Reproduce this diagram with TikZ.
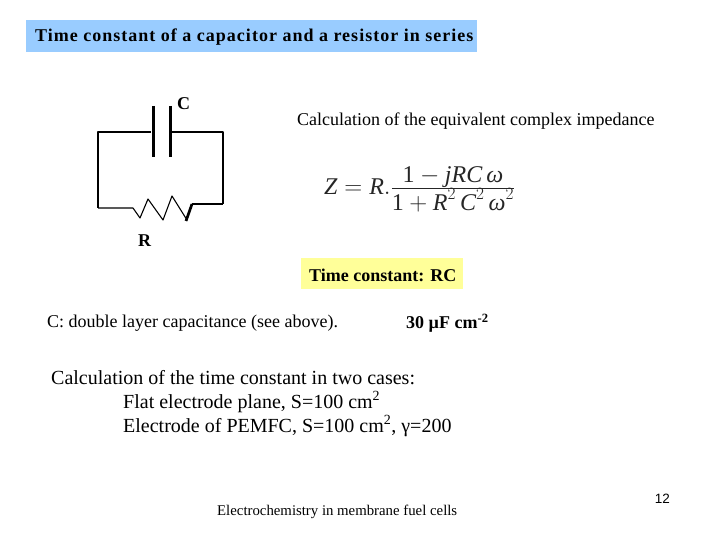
\documentclass[tikz,border=0pt]{standalone}
\usepackage{fontspec}
\setmainfont{Liberation Serif}
\newfontfamily\footfont{Liberation Sans}
\definecolor{titleblue}{RGB}{153,204,255}
\definecolor{noteyellow}{RGB}{255,255,153}
\tikzset{
	txt/.style={anchor=west,inner sep=0pt,font=\fontsize{18}{20}\selectfont},
	boldtxt/.style={txt,font=\fontsize{18}{20}\selectfont\bfseries},
	bigtxt/.style={txt,font=\fontsize{20}{22}\selectfont},
	wire/.style={line width=2.7pt},
	thinwire/.style={line width=1.1pt},
	plate/.style={line width=3pt}
}
\begin{document}
\begin{tikzpicture}[x=1pt,y=-1pt,line join=round]
	\useasboundingbox (0,0) rectangle (720,540);
	\fill[titleblue] (26,20) rectangle (477,52);
	\fill[noteyellow] (301,258) rectangle (463,289);
	\node[boldtxt] (title) at (35,37) {\addfontfeature{LetterSpace=5.6}Time constant of a capacitor and a resistor in series};
	% circuit
	\coordinate (tl) at (98,132);
	\coordinate (tr) at (223,132);
	\coordinate (bl) at (98,208);
	\coordinate (br) at (223,204);
	\draw[wire] (bl)--(tl)--(151,132);
	\draw[wire] (172,132)--(tr)--(br);
	\draw[plate] (153,106)--(153,157);
	\draw[plate] (170,106)--(170,157);
	\draw[thinwire] (bl)--(133,208)--(140,218)--(148,199)--(163,220)--(172,196)--(187,220);
	\draw[wire] (186,221)--(192,204);
	\draw[thinwire] (192,204)--(br);
	\node[boldtxt] (capC) at (177,104) {C};
	\node[boldtxt] (resR) at (138,241) {R};
	% right column
	\node[txt] (calc) at (297,121) {Calculation of the equivalent complex impedance};
	\node[anchor=west,inner sep=0pt,text=black!85,font=\fontsize{24}{30}\selectfont] (formula) at (324,189)
		{$\textit{Z}=\textit{R}.\frac{\displaystyle\mathrm{1}-\textit{jRC}\,\textit{ω}}{\displaystyle\mathrm{1}+\textit{R}^{2}\,\textit{C}^{2}\,\textit{ω}^{2}}$};
	\node[boldtxt] (tconst) at (309,275) {Time constant: RC};
	\node[txt] (dbl) at (47,323) {C: double layer capacitance (see above).};
	\node[boldtxt] (val) at (406,323) {30 µF cm\textsuperscript{-2}};
	\node[bigtxt] (two) at (51,378) {Calculation of the time constant in two cases:};
	\node[bigtxt] (flat) at (123,402) {Flat electrode plane, S=100 cm\textsuperscript{2}};
	\node[bigtxt] (pem) at (123,426) {Electrode of PEMFC, S=100 cm\textsuperscript{2}, γ=200};
	% footer
	\node[txt,font=\fontsize{14.8}{16}\selectfont] (foot) at (217,512) {Electrochemistry in membrane fuel cells};
	\node[anchor=east,inner sep=0pt,font=\footfont\fontsize{13.5}{16}\selectfont] (page) at (670,499) {12};
\end{tikzpicture}
\end{document}
